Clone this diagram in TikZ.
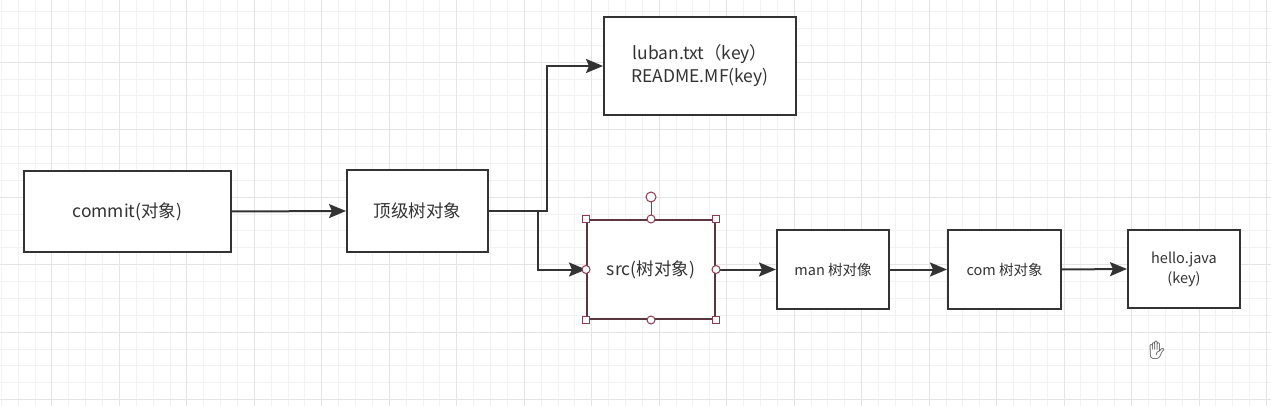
\documentclass[tikz,border=0pt]{standalone}
\usepackage{fontspec}
\setmainfont{Noto Sans CJK SC}
\newfontfamily\emo{Noto Emoji}
\usetikzlibrary{arrows.meta,calc}
\definecolor{minorg}{HTML}{F2F2F2}
\definecolor{majorg}{HTML}{E4E4E4}
\definecolor{edge}{HTML}{333333}
\definecolor{txt}{HTML}{333333}
\definecolor{sel}{HTML}{8A3B4E}
\tikzset{
  box/.style={draw=edge, line width=2pt, fill=white, text=txt, align=center, inner sep=0pt},
  big/.style={font=\fontsize{17.5}{23}\selectfont},
  small/.style={font=\fontsize{14.5}{20}\selectfont},
  conn/.style={draw=edge, line width=2pt, -{Stealth[length=17pt,width=14pt,inset=3pt]}},
  hsq/.style={draw=sel, fill=white, line width=1pt, minimum size=7pt, inner sep=0pt, rectangle},
  hci/.style={draw=sel, fill=white, line width=1pt, minimum size=8pt, inner sep=0pt, circle},
}
\begin{document}
\begin{tikzpicture}[x=1pt,y=-1pt]
\useasboundingbox (0,0) rectangle (1271,406);
\fill[white] (0,0) rectangle (1271,406);
% grid
\foreach \k in {0,...,75} {
  \pgfmathsetmacro{\xx}{1.3+16.87*\k}
  \draw[minorg, line width=1pt] (\xx,0) -- (\xx,406);
}
\foreach \k in {0,...,24} {
  \pgfmathsetmacro{\yy}{11.6+16.87*\k}
  \draw[minorg, line width=1pt] (0,\yy) -- (1271,\yy);
}
\foreach \k in {3,7,...,75} {
  \pgfmathsetmacro{\xx}{1.3+16.87*\k}
  \draw[majorg, line width=1pt] (\xx,0) -- (\xx,406);
}
\foreach \k in {3,7,...,23} {
  \pgfmathsetmacro{\yy}{11.6+16.87*\k}
  \draw[majorg, line width=1pt] (0,\yy) -- (1271,\yy);
}
% nodes
\node[box,big, minimum width=207pt, minimum height=81pt] (commit) at (127.5,211.5) {commit(对象)};
\node[box,big, minimum width=141pt, minimum height=82pt] (top) at (417.5,211) {顶级树对象};
\node[box,big, minimum width=192pt, minimum height=98pt] (luban) at (700,66) {luban.txt（key）\\README.MF(key)};
\node[box,big, draw=sel!45!edge, minimum width=128pt, minimum height=99pt] (src) at (651,269.5) {src(树对象)};
\node[box,small, minimum width=112pt, minimum height=79pt] (man) at (833,269.5) {man 树对像};
\node[box,small, minimum width=113pt, minimum height=79pt] (com) at (1004.5,269.5) {com 树对象};
\node[box,small, minimum width=112pt, minimum height=78pt] (hello) at (1184,269) {hello.java\\(key)};
% connectors
\coordinate (jup) at (547,211);
\coordinate (jdn) at (538,211);
\draw[conn] (commit.east) -- (top.west);
\draw[conn] (top.east) -- (jup) |- (luban.west);
\draw[conn] (top.east) -- (jdn) |- (src.west);
\draw[conn] (src.east) -- (man.west);
\draw[conn] (man.east) -- (com.west);
\draw[conn] (com.east) -- (hello.west);
% selection handles
\coordinate (rot) at (651,197);
\draw[sel, line width=1pt] (src.north) -- (rot);
\node[hci, minimum size=10pt] (hrot) at (rot) {};
\node[hsq] (h1) at (src.north west) {};
\node[hsq] (h2) at (src.north east) {};
\node[hsq] (h3) at (src.south west) {};
\node[hsq] (h4) at (src.south east) {};
\node[hci] (h5) at (src.north) {};
\node[hci] (h6) at (src.south) {};
\node[hci] (h7) at (src.west) {};
\node[hci] (h8) at (src.east) {};
% cursor
\node[text=black!75, font=\emo\fontsize{18}{18}\selectfont, inner sep=0pt] (hand) at (1157,350) {✋};
\end{tikzpicture}
\end{document}
